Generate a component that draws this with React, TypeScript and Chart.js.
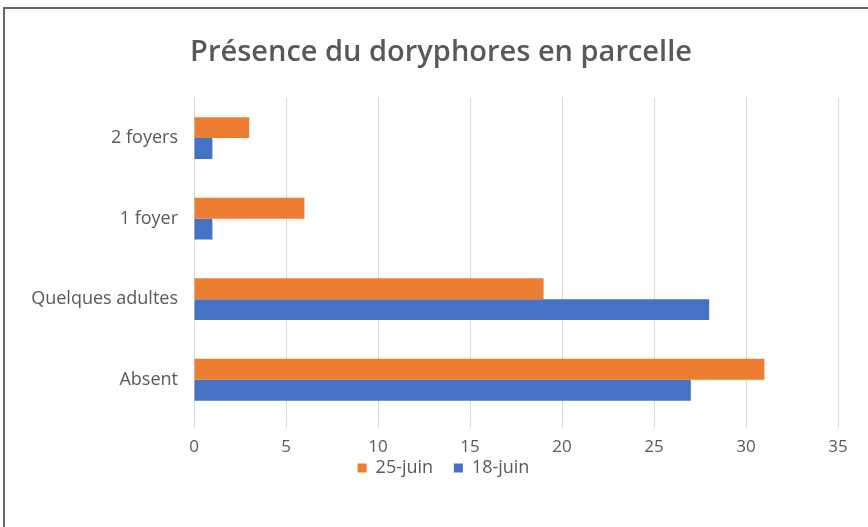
import React, { useEffect, useRef } from "react";
import { Chart, registerables } from "chart.js";

Chart.register(...registerables);

const categories = ["2 foyers", "1 foyer", "Quelques adultes", "Absent"];
const series25Juin = [3, 6, 19, 31];
const series18Juin = [1, 1, 28, 27];
const seriesLabels = ["25-juin", "18-juin"];
const xTicks = [0, 5, 10, 15, 20, 25, 30, 35];

const FONT = "Open Sans";
const GRAY = "#595959";

const shiftPlugin = {
  id: "shiftBlocks",
  afterLayout(chart: any) {
    if (chart.titleBlock) chart.titleBlock.left += 39;
    if (chart.legend) chart.legend.left += 44;
    const x = chart.scales && chart.scales.x;
    if (x) x.bottom = x.top + 44;
  },
};

export default function App() {
  const ref = useRef<HTMLCanvasElement | null>(null);

  useEffect(() => {
    if (!ref.current) return;
    const chart = new Chart(ref.current, {
      type: "bar",
      data: {
        labels: categories,
        datasets: [
          {
            label: seriesLabels[0],
            data: series25Juin,
            backgroundColor: "#ED7D31",
            categoryPercentage: 0.52,
            barPercentage: 1,
          },
          {
            label: seriesLabels[1],
            data: series18Juin,
            backgroundColor: "#4472C4",
            categoryPercentage: 0.52,
            barPercentage: 1,
          },
        ],
      },
      plugins: [shiftPlugin],
      options: {
        indexAxis: "y",
        animation: false,
        responsive: false,
        maintainAspectRatio: false,
        layout: { padding: { left: 0, right: 27, top: 0, bottom: 40 } },
        plugins: {
          title: {
            display: true,
            text: "Présence du doryphores en parcelle",
            color: GRAY,
            font: { family: FONT, size: 29, weight: "600" },
            padding: { top: 26, bottom: 28 },
          },
          legend: {
            position: "bottom",
            labels: {
              color: GRAY,
              font: { family: FONT, size: 18 },
              boxWidth: 9,
              boxHeight: 9,
              padding: 2,
              generateLabels: (c: any) => {
                const items = Chart.defaults.plugins.legend.labels.generateLabels(c);
                return items.map((it: any, i: number) =>
                  i < items.length - 1 ? { ...it, text: it.text + "    " } : it
                );
              },
            },
          },
          tooltip: { enabled: false },
        },
        scales: {
          x: {
            min: 0,
            max: 35,
            afterBuildTicks: (axis: any) => {
              axis.ticks = xTicks.map((v) => ({ value: v }));
            },
            afterFit: (axis: any) => {
              axis.height = 37;
            },
            grid: {
              color: "#D9D9D9",
              drawTicks: true,
              tickLength: 8,
              tickColor: "#D9D9D9",
            },
            border: { display: false },
            ticks: {
              color: GRAY,
              font: { family: FONT, size: 17 },
              padding: 9,
            },
          },
          y: {
            afterFit: (axis: any) => {
              axis.width = 189;
            },
            grid: { display: false },
            border: { display: false },
            ticks: {
              color: GRAY,
              font: { family: FONT, size: 18 },
              padding: 8,
            },
          },
        },
      },
    });
    return () => chart.destroy();
  }, []);

  return (
    <div
      style={{
        position: "fixed",
        left: 0,
        top: 0,
        width: 868,
        height: 527,
        background: "#fff",
      }}
    >
      <div
        style={{
          position: "absolute",
          left: 3,
          top: 7,
          width: 870,
          height: 530,
          borderTop: "2px solid #666",
          borderLeft: "2px solid #666",
          boxSizing: "border-box",
        }}
      />
      <canvas
        ref={ref}
        width={860}
        height={518}
        style={{ position: "absolute", left: 5, top: 9 }}
      />
    </div>
  );
}
